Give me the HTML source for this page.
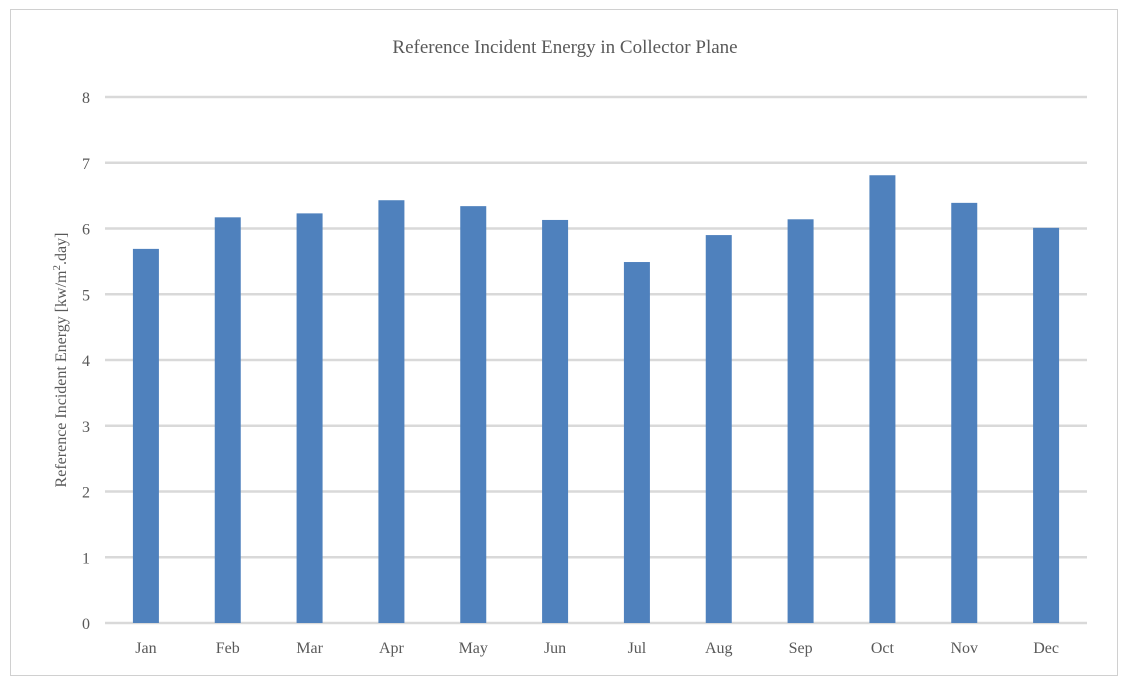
<!DOCTYPE html>
<html><head><meta charset="utf-8"><style>
body{margin:0;background:#fff;width:1128px;height:678px;overflow:hidden}
svg{display:block;font-family:"Liberation Serif",serif}
</style></head><body>
<svg id="chart" width="1128" height="678">
<rect x="10.5" y="9.5" width="1107" height="666" fill="#fff" stroke="#d0d0d0"/>
<text x="565" y="53" text-anchor="middle" font-size="19" fill="#595959">Reference Incident Energy in Collector Plane</text>
<text transform="translate(66,360) rotate(-90)" text-anchor="middle" font-size="16" fill="#595959">Reference Incident Energy [kw/m<tspan font-size="11" dy="-6">2</tspan><tspan dy="6">.day]</tspan></text>
<g id="grid"></g><g id="bars"></g><g id="labels"></g>
</svg>
<script>
const categories=["Jan","Feb","Mar","Apr","May","Jun","Jul","Aug","Sep","Oct","Nov","Dec"];
const values=[5.69,6.17,6.23,6.43,6.34,6.13,5.49,5.90,6.14,6.81,6.39,6.01];
const yTicks=[0,1,2,3,4,5,6,7,8];
const X0=105,X1=1087,Y0=623,Y1=97,YMAX=8;
const y=v=>Y0-(v/YMAX)*(Y0-Y1);
const band=(X1-X0)/categories.length;
const x=i=>X0+band*(i+0.5);
const NS="http://www.w3.org/2000/svg";
const grid=document.getElementById('grid'),bars=document.getElementById('bars'),labels=document.getElementById('labels');
yTicks.forEach(t=>{
 const l=document.createElementNS(NS,'line');
 l.setAttribute('x1',X0);l.setAttribute('x2',X1);l.setAttribute('y1',y(t));l.setAttribute('y2',y(t));
 l.setAttribute('stroke','#d9d9d9');l.setAttribute('stroke-width','2.5');
 
 
 grid.appendChild(l);
 const tx=document.createElementNS(NS,'text');
 tx.setAttribute('x',90);tx.setAttribute('y',y(t)+6);tx.setAttribute('text-anchor','end');
 tx.setAttribute('font-size','16');tx.setAttribute('fill','#595959');tx.textContent=t;
 
 
 labels.appendChild(tx);
});
categories.forEach((c,i)=>{
 const r=document.createElementNS(NS,'rect');
 r.setAttribute('x',x(i)-13);r.setAttribute('width',26);
 r.setAttribute('y',y(values[i]));r.setAttribute('height',Y0-y(values[i]));
 r.setAttribute('fill','#4f81bd');
 
 
 bars.appendChild(r);
 const tx=document.createElementNS(NS,'text');
 tx.setAttribute('x',x(i));tx.setAttribute('y',653);tx.setAttribute('text-anchor','middle');
 tx.setAttribute('font-size','16');tx.setAttribute('fill','#595959');tx.textContent=c;
 
 
 labels.appendChild(tx);
});
</script>
</body></html>
